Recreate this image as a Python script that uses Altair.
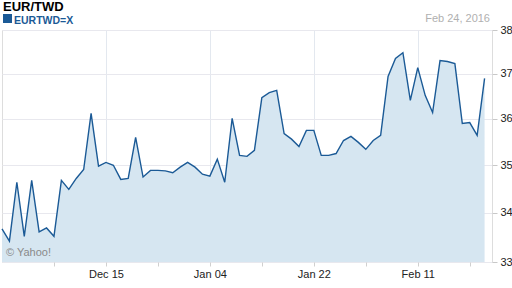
import altair as alt
import pandas as pd

# ---- data ----
dates = [d.strftime("%Y-%m-%d") for d in pd.bdate_range("2015-11-25", "2016-02-24")]
rates = [
    33.67, 33.42, 34.64, 33.52, 34.68, 33.61, 33.69, 33.52, 34.68, 34.49,
    34.72, 34.91, 36.12, 34.98, 35.06, 35.00, 34.70, 34.72, 35.60, 34.75,
    34.89, 34.89, 34.88, 34.84, 34.96, 35.06, 34.96, 34.81, 34.77, 35.13,
    34.64, 36.01, 35.21, 35.19, 35.32, 36.47, 36.58, 36.63, 35.68, 35.56,
    35.40, 35.75, 35.75, 35.21, 35.21, 35.25, 35.53, 35.62, 35.49, 35.34,
    35.53, 35.64, 36.94, 37.35, 37.48, 36.41, 37.14, 36.52, 36.14, 37.30,
    37.28, 37.23, 35.90, 35.92, 35.64, 36.90,
]
x_tick_pos = [14, 28, 42, 56]
x_tick_labels = ["Dec 15", "Jan 04", "Jan 22", "Feb 11"]
x_minor_pos = [7, 21, 35, 49, 63]
y_ticks = [33, 34, 35, 36, 37, 38]

title = "EUR/TWD"
symbol = "EURTWD=X"
date_text = "Feb 24, 2016"
credit = "© Yahoo!"

df = pd.DataFrame({"i": list(range(len(rates))), "date": dates[:len(rates)], "rate": rates})

FONT = "Liberation Sans"
LINE = "#1b5a96"
FILL = "#d6e6f1"

label_expr = " : ".join(
    f"datum.value == {p} ? '{l}'" for p, l in zip(x_tick_pos, x_tick_labels)
) + " : ''"
grid_test = " || ".join(f"datum.value == {p}" for p in x_tick_pos)

x_enc = alt.X(
    "i:Q",
    scale=alt.Scale(domain=[0, 66], nice=False, zero=False),
    axis=alt.Axis(
        title=None,
        values=sorted(x_tick_pos + x_minor_pos),
        labelExpr=label_expr,
        grid=True,
        gridColor="#e3e8ef",
        gridOpacity={"condition": {"test": grid_test, "value": 1}, "value": 0},
        domain=False,
        tickColor="#d0d0d0",
        tickSize=4,
        labelPadding=2,
        labelFont=FONT,
        labelFontSize=11,
        labelColor="#222222",
    ),
)
y_enc = alt.Y(
    "rate:Q",
    scale=alt.Scale(type="log", domain=[33, 38], nice=False, zero=False),
    axis=alt.Axis(
        title=None,
        orient="right",
        values=y_ticks,
        grid=True,
        gridColor="#e8e8ee",
        domain=False,
        tickColor="#c8c8c8",
        tickSize=5,
        labelPadding=3,
        labelFont=FONT,
        labelFontSize=11,
        labelColor="#222222",
    ),
)

area = alt.Chart(df).mark_area(
    color=FILL,
    line={"color": LINE, "strokeWidth": 1.4},
    opacity=1,
).encode(x=x_enc, y=y_enc, y2=alt.datum(33))

def txt(s, x, y, **kw):
    return alt.Chart(pd.DataFrame({"t": [s]})).mark_text(font=FONT, **kw).encode(
        x=alt.value(x), y=alt.value(y), text="t:N"
    )

t1 = txt(title, 1, -19, align="left", baseline="alphabetic", fontSize=13, fontWeight="bold", color="#000000")
sq = alt.Chart(pd.DataFrame({"t": [symbol]})).mark_square(size=81, color=LINE, opacity=1).encode(
    x=alt.value(5.5), y=alt.value(-11.5)
)
t2 = txt(symbol, 12, -6, align="left", baseline="alphabetic", fontSize=10.5, fontWeight="bold", color=LINE)
t3 = txt(date_text, 488, -8, align="right", baseline="alphabetic", fontSize=11, color="#b0b0b0")
t4 = txt(credit, 4, 226, align="left", baseline="alphabetic", fontSize=11, color="#8a8a8a")

chart = alt.layer(area, t1, sq, t2, t3, t4).properties(
    width=490,
    height=232,
    padding={"left": 2, "top": 30, "right": 20, "bottom": 26},
    autosize="none",
).configure_view(stroke="#dcdcdc", strokeWidth=1).configure(background="white")

chart.save("out.html", embed_options={"renderer": "svg", "actions": False})
